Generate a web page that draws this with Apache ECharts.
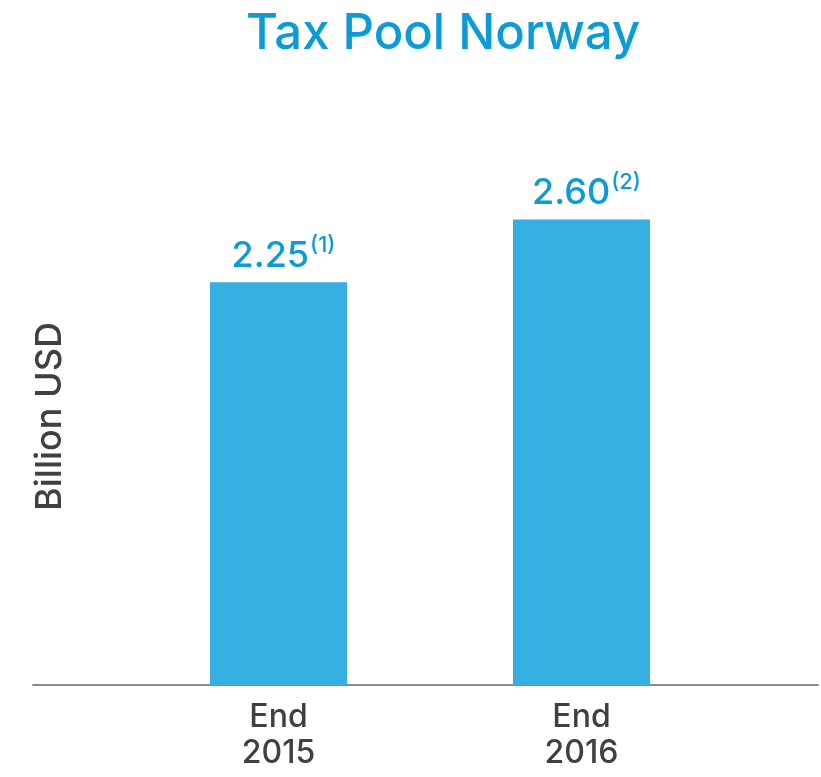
<!DOCTYPE html>
<html>
<head>
<meta charset="utf-8">
<script src="https://cdn.jsdelivr.net/npm/echarts@6/dist/echarts.min.js"></script>
<style>
  html, body { margin: 0; padding: 0; background: #fff; }
  #chart { width: 821px; height: 777px; }
</style>
</head>
<body>
<div id="chart"></div>
<script>
const categories = ['End\n2015', 'End\n2016'];
const values = [2.25, 2.60];
const valueLabels = ['2.25', '2.60'];
const footnotes = ['(1)', '(2)'];

const blue = '#0a9bd8';
const barColor = '#35aee2';
const textColor = '#404040';
const font = 'Inter';

const chart = echarts.init(document.getElementById('chart'));
chart.setOption({
  animation: false,
  title: {
    text: 'Tax Pool Norway',
    left: 438,
    textAlign: 'center',
    top: 5,
    textStyle: { color: blue, fontFamily: font, fontSize: 49, fontWeight: 500 }
  },
  grid: [
    { left: 127, right: 88, top: 148, bottom: 92 },
    { left: 33, right: 3, top: 148, bottom: 92 }
  ],
  xAxis: [
    {
      type: 'category',
      gridIndex: 0,
      data: categories,
      axisLine: { show: false },
      axisTick: { show: false },
      axisLabel: {
        color: textColor, fontFamily: font, fontSize: 32, fontWeight: 500, lineHeight: 36, margin: 14
      }
    },
    {
      type: 'category',
      gridIndex: 1,
      data: [''],
      axisLine: { show: true, lineStyle: { color: '#8c8c8c', width: 2 } },
      axisTick: { show: false },
      axisLabel: { show: false }
    }
  ],
  yAxis: [
    {
      type: 'value',
      gridIndex: 0,
      min: 0,
      max: 3,
      name: 'Billion USD',
      nameLocation: 'middle',
      nameRotate: 90,
      nameGap: 59,
      nameTextStyle: { color: textColor, fontFamily: font, fontSize: 36, fontWeight: 500 },
      axisLine: { show: false },
      axisTick: { show: false },
      axisLabel: { show: false },
      splitLine: { show: false }
    },
    {
      type: 'value',
      gridIndex: 1,
      show: false,
      splitLine: { show: false }
    }
  ],
  series: [
    {
      type: 'bar',
      xAxisIndex: 0,
      yAxisIndex: 0,
      barWidth: 137,
      itemStyle: { color: barColor },
      data: values,
      label: {
        show: true,
        position: 'top',
        distance: 8,
        offset: [5, 0],
        formatter: (p) => '{v|' + valueLabels[p.dataIndex] + '}{s|' + footnotes[p.dataIndex] + '}',
        rich: {
          v: { color: blue, fontFamily: font, fontSize: 36, fontWeight: 500, verticalAlign: 'bottom' },
          s: { color: blue, fontFamily: font, fontSize: 22, fontWeight: 500, verticalAlign: 'top', padding: [0, 0, 18, 1] }
        }
      }
    }
  ]
});
</script>
</body>
</html>
